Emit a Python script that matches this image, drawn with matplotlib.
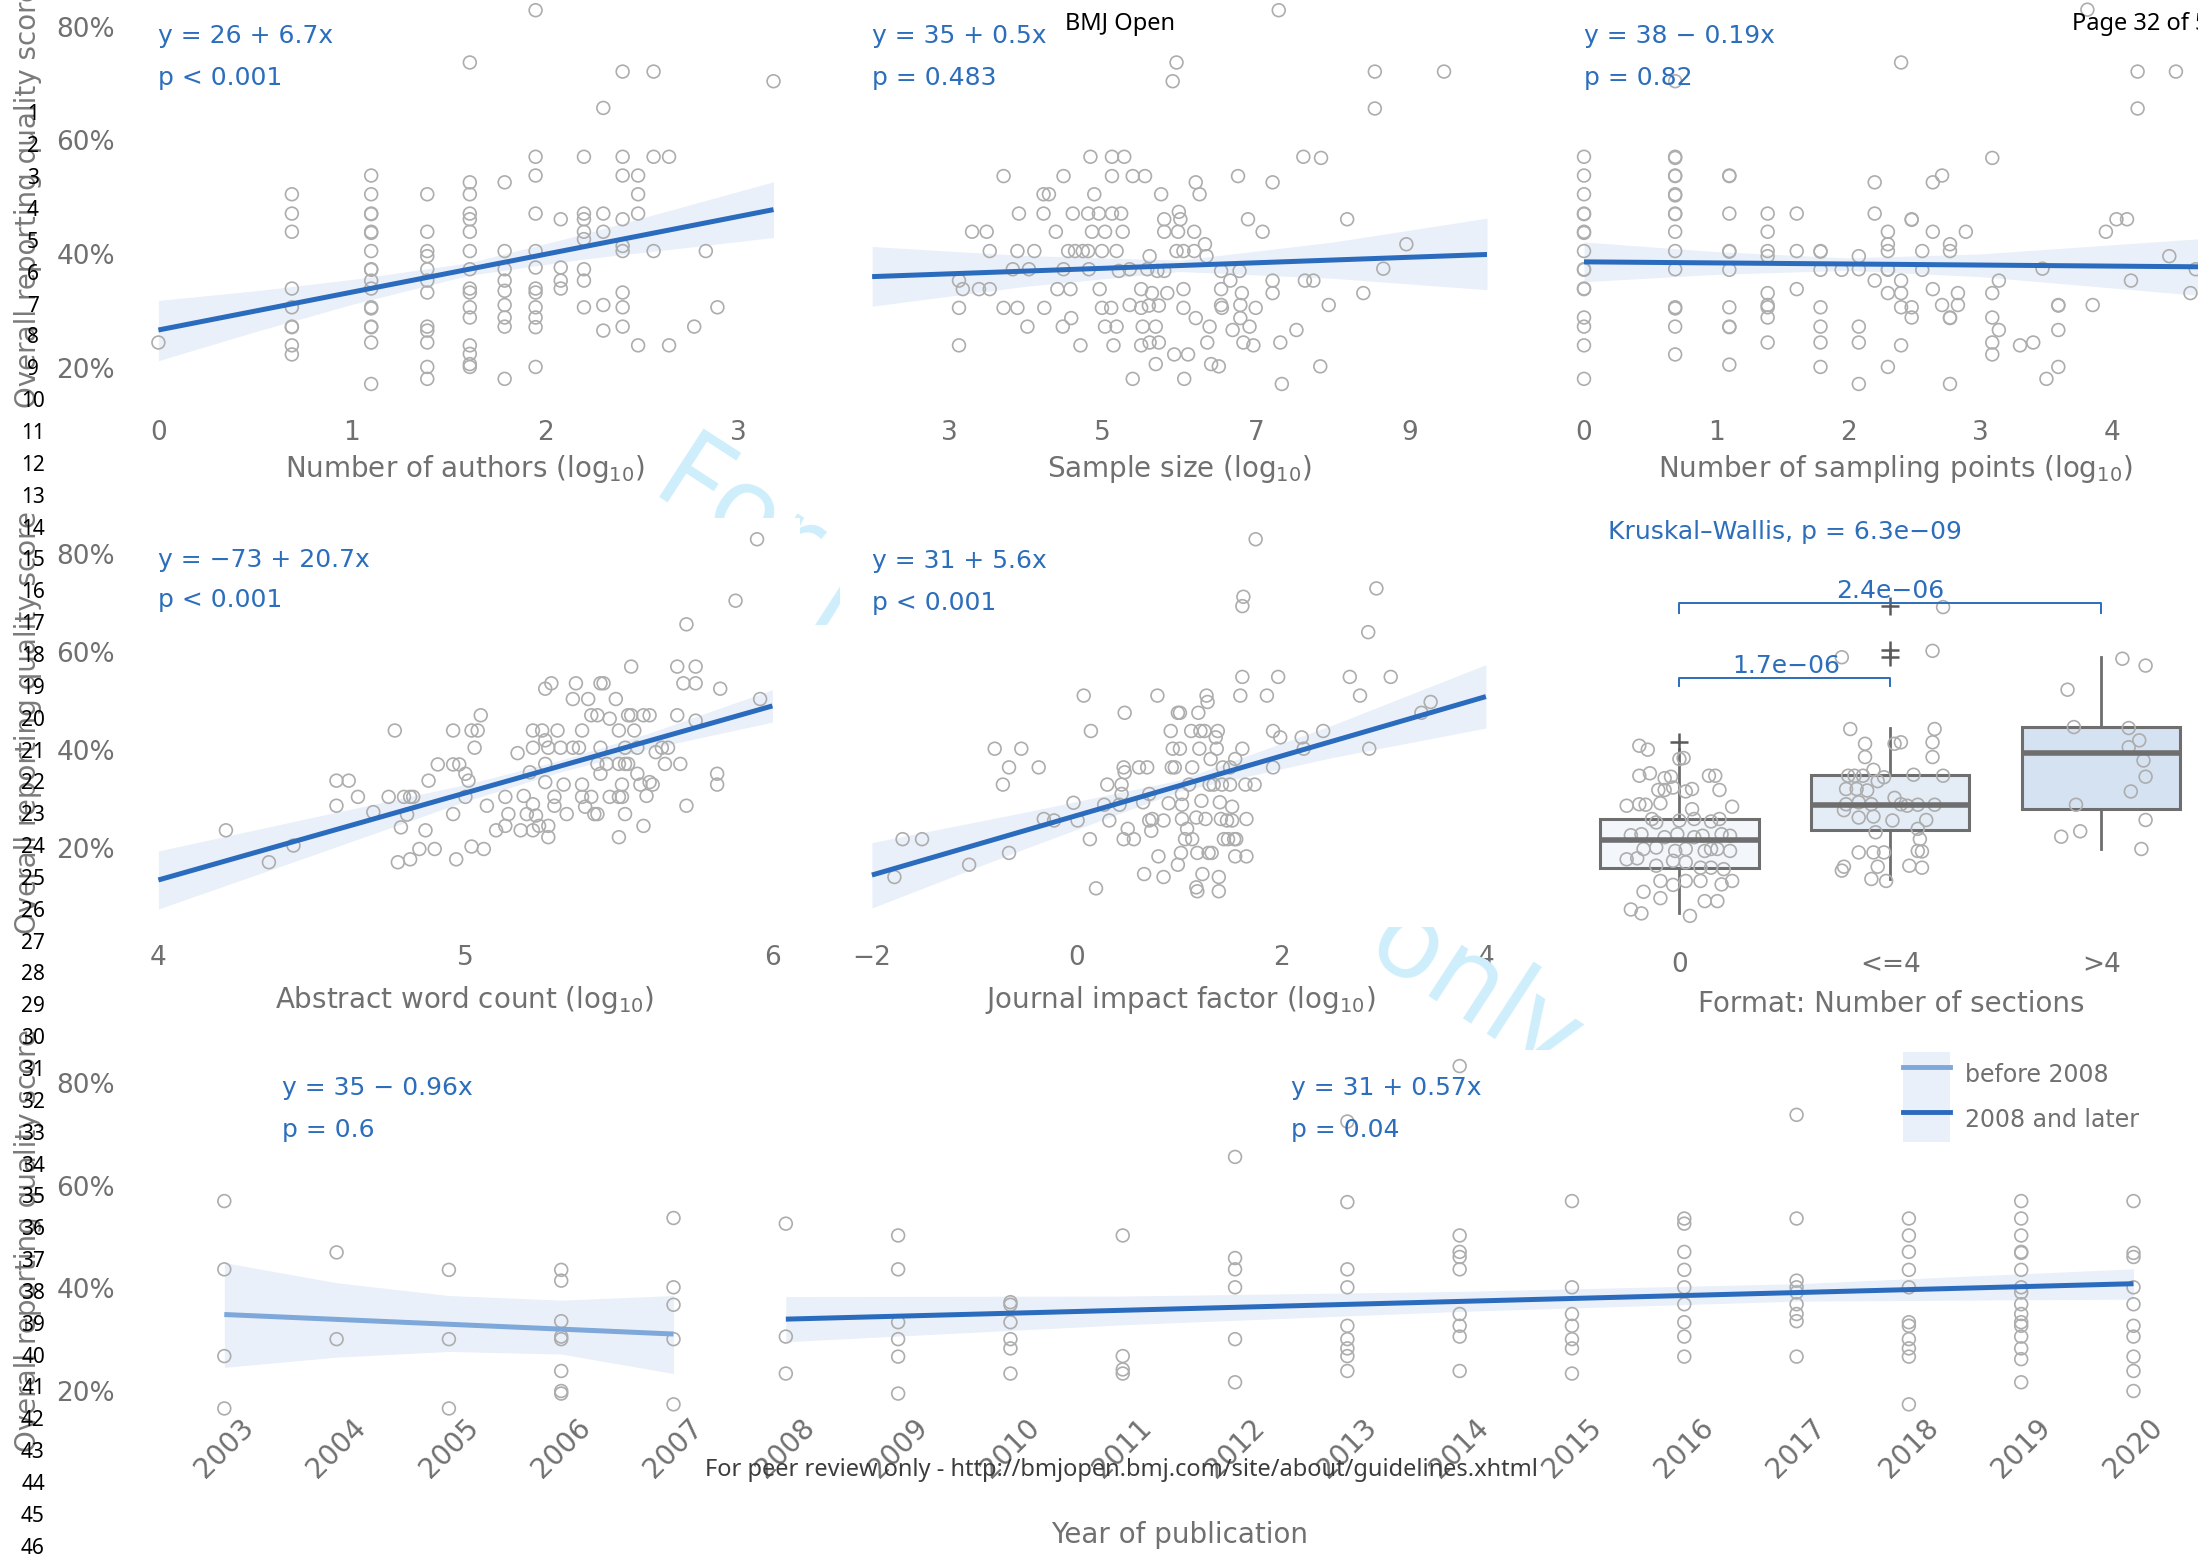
import matplotlib
matplotlib.use("Agg")
import matplotlib.pyplot as plt
from matplotlib.transforms import Bbox, TransformedBbox, IdentityTransform
from matplotlib.lines import Line2D
from matplotlib.patches import Patch
from matplotlib.legend_handler import HandlerTuple

# ---------------- data ----------------
# number of authors (log), scores stacked per column
authors_x = [0, 0.69, 1.10, 1.39, 1.61, 1.79, 1.95, 2.08, 2.20, 2.30, 2.40,
             2.48, 2.56, 2.64, 2.77, 2.83, 2.89, 3.18]
authors_y = [
    [24.4],
    [50.5, 47.1, 43.9, 33.9, 30.6, 27.2, 27.1, 23.9, 22.3],
    [53.8, 50.5, 47.1, 47.0, 43.9, 43.7, 40.5, 37.3, 37.2, 35.3, 33.9, 30.6,
     30.4, 27.2, 27.1, 24.4, 17.1],
    [50.5, 43.9, 40.5, 39.6, 37.3, 35.3, 33.2, 27.2, 26.5, 24.4, 20.1, 18.0],
    [73.7, 52.6, 50.5, 47.1, 46.1, 43.9, 40.5, 37.3, 33.9, 33.2, 30.6, 28.8,
     23.9, 22.4, 20.6, 20.1],
    [52.6, 40.5, 37.3, 35.3, 33.5, 31.0, 28.8, 27.2, 18.0],
    [82.9, 57.1, 53.8, 47.1, 40.5, 37.6, 33.9, 33.2, 30.6, 28.8, 27.1, 20.1],
    [46.1, 37.6, 35.3, 33.9],
    [57.1, 47.1, 46.1, 43.9, 42.6, 37.3, 35.3, 30.6],
    [65.7, 47.1, 43.9, 31.0, 26.5],
    [72.1, 57.1, 53.8, 46.1, 41.4, 40.5, 33.2, 30.6, 27.2],
    [53.8, 50.5, 47.1, 23.9],
    [72.1, 57.1, 40.5],
    [57.1, 23.9],
    [27.2],
    [40.5],
    [30.6],
    [70.4],
]
authors_fit_x = [0, 3.18]
authors_fit_y = [26.6, 47.8]
authors_band_x = [0, 0.5, 1.0, 1.6, 2.2, 2.7, 3.18]
authors_band_lo = [21.2, 26.3, 31.1, 36.2, 39.1, 41.0, 42.9]
authors_band_hi = [31.8, 33.5, 35.5, 38.4, 43.5, 48.2, 52.7]

# sample size (log)
sample_x = [7.29, 5.96, 5.91, 8.54, 9.44, 8.54, 4.84, 5.12, 5.28, 7.61, 7.84,
            3.71, 4.49, 5.12, 5.39, 5.55, 6.76, 6.21, 7.21, 4.23, 4.30, 4.89,
            5.76, 6.26, 3.91, 4.23, 4.61, 4.81, 4.95, 5.12, 5.24, 5.99, 5.80,
            6.01, 6.89, 8.18, 3.30, 3.49, 4.39, 4.86, 5.03, 5.26, 5.80, 5.98,
            6.19, 7.08, 3.53, 3.89, 4.11, 4.55, 4.64, 4.74, 4.81, 4.99, 5.18,
            5.96, 6.05, 6.19, 6.33, 6.35, 5.61, 8.95, 3.83, 4.04, 4.49, 4.82,
            5.21, 5.35, 5.58, 5.71, 5.80, 6.54, 6.78, 8.65, 3.13, 3.18, 3.39,
            3.53, 4.41, 4.58, 4.96, 5.50, 5.64, 5.84, 6.05, 6.54, 6.66, 6.81,
            7.21, 7.21, 7.63, 7.74, 8.39, 3.13, 3.71, 3.89, 4.24, 4.99, 5.11,
            5.35, 5.50, 5.60, 5.73, 6.05, 6.54, 6.55, 6.79, 6.99, 7.94, 4.02,
            4.48, 4.59, 5.03, 5.18, 5.52, 5.69, 6.21, 6.39, 6.69, 6.79, 6.91,
            7.52, 3.13, 4.71, 5.14, 5.50, 5.61, 5.73, 6.36, 6.83, 6.96, 7.31,
            5.69, 5.93, 6.11, 6.41, 6.51, 7.83, 5.39, 6.06, 7.33]
sample_y = [82.9, 73.7, 70.4, 72.1, 72.1, 65.6, 57.1, 57.1, 57.1, 57.1, 56.9,
            53.7, 53.7, 53.7, 53.7, 53.7, 53.7, 52.6, 52.6, 50.5, 50.5, 50.5,
            50.5, 50.5, 47.1, 47.1, 47.1, 47.1, 47.1, 47.1, 47.1, 47.4, 46.1,
            46.1, 46.1, 46.1, 43.9, 43.9, 43.9, 43.9, 43.9, 43.9, 43.9, 43.9,
            43.9, 43.9, 40.5, 40.5, 40.5, 40.5, 40.5, 40.5, 40.5, 40.5, 40.5,
            40.5, 40.5, 40.5, 41.7, 39.6, 39.6, 41.7, 37.3, 37.3, 37.3, 37.3,
            37.0, 37.3, 37.3, 37.0, 37.0, 37.0, 37.0, 37.4, 35.3, 33.8, 33.8,
            33.8, 33.8, 33.8, 33.8, 33.8, 33.1, 33.1, 33.8, 33.8, 35.3, 33.1,
            35.3, 33.1, 35.3, 35.3, 33.1, 30.5, 30.5, 30.5, 30.5, 30.5, 30.5,
            31.0, 30.5, 30.9, 30.9, 30.5, 31.0, 30.5, 31.0, 30.5, 31.0, 27.2,
            27.2, 28.7, 27.2, 27.2, 27.2, 27.2, 28.7, 27.2, 26.6, 28.7, 27.2,
            26.6, 23.9, 23.9, 23.9, 23.9, 24.4, 24.4, 24.4, 24.4, 23.9, 24.4,
            20.6, 22.3, 22.3, 20.6, 20.2, 20.2, 18.0, 18.0, 17.1]
sample_fit_x = [2, 10]
sample_fit_y = [36.0, 39.9]
sample_band_x = [2, 4, 6, 8, 10]
sample_band_lo = [30.8, 34.3, 36.9, 35.7, 33.7]
sample_band_hi = [41.3, 39.7, 38.9, 42.1, 46.3]

# number of sampling points (log), scores stacked per column
sampling_x = [0, 0.69, 1.10, 1.39, 1.61, 1.79, 1.95, 2.08, 2.20, 2.30, 2.40,
              2.48, 2.56, 2.64, 2.71, 2.77, 2.83, 2.89, 3.09, 3.14, 3.30, 3.40,
              3.47, 3.50, 3.59, 3.81, 3.85, 3.95, 4.03, 4.11, 4.14, 4.19, 4.43,
              4.48, 4.59, 4.63]
sampling_y = [
    [57.1, 53.8, 50.5, 47.1, 47.0, 43.9, 43.7, 40.5, 37.3, 37.2, 33.9, 33.8,
     28.8, 27.2, 23.9, 18.0],
    [70.4, 57.1, 56.9, 53.8, 53.7, 50.5, 50.3, 47.1, 47.0, 43.9, 40.5, 37.3,
     30.6, 30.4, 27.2, 22.3],
    [53.8, 53.7, 47.1, 40.5, 40.4, 37.2, 30.6, 27.2, 27.1, 20.5],
    [47.1, 43.9, 40.5, 39.6, 33.1, 31.0, 30.6, 28.8, 24.4],
    [47.1, 40.5, 33.8],
    [40.5, 40.4, 37.2, 30.6, 27.2, 24.4, 20.1],
    [37.2],
    [39.6, 37.3, 27.2, 24.4, 17.1],
    [52.6, 47.1, 35.3],
    [43.9, 41.7, 40.5, 37.3, 37.2, 33.1, 20.1],
    [73.7, 35.3, 33.1, 30.6, 23.9],
    [46.1, 46.0, 30.6, 28.8],
    [40.5, 37.2],
    [52.6, 43.9, 33.8],
    [53.8, 31.0],
    [41.7, 40.5, 28.8, 28.7, 17.1],
    [33.1, 31.0],
    [43.9],
    [56.9, 33.1, 28.8, 24.4, 22.3],
    [35.3, 26.6],
    [23.9],
    [24.4],
    [37.4],
    [18.0],
    [31.0, 30.9, 26.6, 20.1],
    [83.0],
    [31.0],
    [43.9],
    [46.1],
    [46.1],
    [35.3],
    [72.1, 65.6],
    [39.6],
    [72.1],
    [33.1],
    [37.3],
]
sampling_fit_x = [0, 4.8]
sampling_fit_y = [38.6, 37.7]
sampling_band_x = [0, 1, 2, 3, 4.8]
sampling_band_lo = [35.1, 36.4, 37.1, 36.0, 32.4]
sampling_band_hi = [42.1, 40.4, 39.3, 40.0, 42.9]

# abstract word count (log)
abstract_x = [4.22, 4.36, 4.44, 4.58, 4.58, 4.62, 4.65, 4.70, 4.75, 4.77,
              4.79, 4.78, 4.80, 4.82, 4.83, 4.81, 4.82, 4.85, 4.87, 4.88,
              4.90, 4.91, 4.96, 4.98, 4.96, 4.96, 4.97, 5.00, 5.00, 5.01,
              5.02, 5.04, 5.03, 5.05, 5.07, 5.02, 5.06, 5.10, 5.13, 5.13,
              5.14, 5.17, 5.18, 5.19, 5.20, 5.21, 5.22, 5.22, 5.22, 5.22,
              5.23, 5.24, 5.25, 5.26, 5.26, 5.26, 5.26, 5.27, 5.27, 5.27,
              5.28, 5.29, 5.29, 5.30, 5.31, 5.32, 5.33, 5.35, 5.35, 5.36,
              5.37, 5.38, 5.38, 5.38, 5.39, 5.40, 5.41, 5.41, 5.42, 5.43,
              5.43, 5.43, 5.44, 5.44, 5.44, 5.45, 5.46, 5.47, 5.47, 5.49,
              5.50, 5.50, 5.50, 5.50, 5.51, 5.51, 5.52, 5.52, 5.52, 5.53,
              5.53, 5.54, 5.54, 5.55, 5.56, 5.56, 5.57, 5.58, 5.58, 5.59,
              5.60, 5.60, 5.61, 5.62, 5.64, 5.65, 5.66, 5.69, 5.69, 5.70,
              5.71, 5.72, 5.72, 5.75, 5.75, 5.75, 5.82, 5.82, 5.83, 5.88,
              5.95, 5.96]
abstract_y = [23.7, 17.2, 20.6, 28.7, 33.8, 33.8, 30.5, 27.4, 30.5, 44.0,
              24.3, 17.2, 30.5, 30.5, 30.5, 26.9, 17.8, 19.9, 23.7, 33.8,
              19.9, 37.1, 37.1, 37.1, 44.0, 27.0, 17.8, 30.5, 35.2, 33.8,
              44.0, 44.0, 40.5, 47.1, 28.7, 20.4, 19.9, 23.7, 30.5, 24.6,
              27.0, 39.4, 23.7, 30.7, 27.0, 35.5, 44.0, 40.5, 29.0, 23.7,
              26.7, 24.6, 44.0, 52.5, 42.0, 33.5, 37.2, 40.5, 22.3, 24.6,
              53.6, 30.5, 28.7, 44.0, 40.5, 33.0, 27.0, 50.4, 40.5, 53.6,
              40.5, 30.5, 44.0, 33.0, 28.5, 50.4, 30.5, 47.1, 27.0, 47.1,
              37.2, 27.0, 53.6, 40.5, 35.2, 53.6, 37.2, 30.5, 46.4, 50.4,
              22.3, 30.5, 44.0, 37.2, 33.0, 30.5, 37.2, 27.0, 40.5, 47.1,
              37.2, 57.0, 47.1, 44.0, 40.5, 35.2, 33.0, 24.6, 47.1, 30.7,
              47.1, 33.5, 33.0, 39.6, 40.5, 37.2, 40.5, 57.0, 47.1, 37.2,
              53.6, 65.6, 28.7, 57.0, 53.6, 46.0, 35.2, 33.0, 52.5, 70.4,
              82.9, 50.4]
abstract_fit_x = [4, 6]
abstract_fit_y = [13.6, 49.0]
abstract_band_x = [4.0, 4.5, 5.0, 5.3, 5.6, 6.0]
abstract_band_lo = [7.7, 18.6, 29.6, 35.4, 40.3, 45.7]
abstract_band_hi = [19.5, 26.3, 33.0, 37.8, 43.5, 52.3]

# journal impact factor (log)
impact_x = [-1.78, -1.70, -1.51, -1.05, -0.80, -0.54, -0.66, -0.37, -0.72,
            -0.66, -0.32, -0.22, -0.03, 0.01, 0.07, 0.14, 0.13, 0.19, 0.27,
            0.30, 0.32, 0.44, 0.44, 0.42, 0.46, 0.47, 0.47, 0.46, 0.50, 0.56,
            0.61, 0.69, 0.66, 0.65, 0.71, 0.71, 0.73, 0.74, 0.79, 0.80, 0.85,
            0.85, 0.90, 0.92, 0.93, 0.94, 0.96, 0.99, 1.01, 1.01, 0.99, 1.02,
            1.03, 1.03, 1.03, 1.06, 1.08, 1.10, 1.12, 1.13, 1.13, 1.17, 1.17,
            1.18, 1.18, 1.19, 1.20, 1.21, 1.22, 1.23, 1.25, 1.26, 1.27, 1.28,
            1.29, 1.30, 1.31, 1.32, 1.34, 1.36, 1.37, 1.38, 1.39, 1.39, 1.40,
            1.41, 1.42, 1.43, 1.44, 1.47, 1.48, 1.50, 1.50, 1.52, 1.52, 1.54,
            1.55, 1.55, 1.56, 1.60, 1.62, 1.62, 1.63, 1.62, 1.66, 1.66, 1.65,
            1.74, 1.75, 1.86, 1.92, 1.92, 1.97, 1.99, 2.20, 2.22, 2.41, 2.67,
            2.77, 2.86, 2.85, 2.93, 3.07, 3.37, 3.46]
impact_y = [14.2, 21.9, 21.9, 16.7, 40.3, 40.3, 36.5, 36.5, 33.0, 19.1, 26.0,
            25.7, 29.3, 25.7, 51.1, 43.9, 21.9, 11.9, 28.9, 33.0, 25.7, 33.0,
            31.1, 28.9, 36.5, 35.5, 47.6, 21.9, 24.0, 21.9, 36.5, 36.5, 14.8,
            29.4, 31.1, 25.7, 23.6, 26.0, 51.1, 18.4, 25.7, 14.2, 29.2, 43.9,
            36.5, 40.3, 36.5, 47.6, 47.6, 40.3, 16.7, 19.1, 26.0, 28.9, 31.1,
            21.9, 24.0, 33.0, 43.9, 36.5, 21.9, 26.3, 12.1, 11.3, 19.1, 47.6,
            40.3, 43.9, 29.7, 14.8, 43.9, 26.0, 51.1, 49.8, 19.1, 33.0, 38.2,
            19.1, 33.0, 42.6, 40.3, 43.9, 14.2, 11.3, 29.4, 26.0, 33.0, 36.5,
            21.9, 25.7, 21.9, 36.5, 33.0, 28.5, 25.7, 21.9, 18.4, 38.2, 21.9,
            51.1, 54.9, 40.3, 71.2, 69.3, 26.0, 18.4, 33.0, 33.0, 82.9, 51.1,
            43.9, 36.5, 54.9, 42.6, 42.6, 40.3, 43.9, 54.9, 51.1, 40.3, 64.0,
            72.9, 54.9, 47.6, 49.8]
impact_fit_x = [-2, 4]
impact_fit_y = [14.6, 50.9]
impact_band_x = [-2, -0.5, 1.0, 2.5, 4.0]
impact_band_lo = [7.9, 20.0, 31.6, 38.5, 44.5]
impact_band_hi = [21.2, 27.4, 33.9, 45.1, 57.4]

# format: number of sections
format_labels = ["0", "<=4", ">4"]
format_q1 = [16.1, 23.8, 28.0]
format_med = [21.7, 28.8, 39.4]
format_q3 = [25.9, 35.0, 44.7]
format_whislo = [6.8, 13.8, 19.9]
format_whishi = [40.3, 44.5, 58.9]
format_outliers = [[41.6], [69.3, 60.4, 58.9], []]
format_pos_x = [-0.19, -0.15, 0.00, 0.02, -0.19, -0.14, -0.07, -0.04, 0.14, 0.17,
                -0.10, -0.07, -0.03, 0.03, 0.06, 0.19, -0.25, -0.19, -0.16, -0.09,
                0.06, 0.25, -0.13, -0.11, 0.00, 0.07, 0.15, 0.19, -0.23, -0.18,
                -0.07, -0.01, 0.07, 0.11, 0.20, 0.24, -0.25, -0.20, -0.17, -0.11,
                -0.02, 0.03, 0.12, 0.15, 0.18, 0.24, -0.11, -0.03, 0.03, 0.10,
                0.15, 0.21, -0.09, -0.03, 0.03, 0.10, 0.20, 0.25, -0.17, -0.09,
                0.12, 0.18, -0.23, -0.18, 0.05,
                0.81, 0.88, 0.88, 1.02, 1.05, 1.21, 1.20, 1.20, 0.80, 0.83, 0.87,
                0.92, 0.97, 1.11, 1.25, 0.79, 0.84, 0.89, 0.94, 0.79, 0.85, 0.91,
                1.02, 1.05, 1.08, 1.13, 1.21, 0.78, 0.85, 0.92, 1.01, 1.17, 0.93,
                1.13, 1.14, 0.85, 0.92, 0.97, 1.13, 1.15, 0.77, 0.78, 0.94, 1.09,
                1.15, 0.91, 0.98, 0.77, 1.20, 1.25,
                2.10, 2.21, 1.84, 1.87, 2.13, 2.18, 2.13, 2.20, 2.21, 2.14, 1.88,
                2.21, 1.90, 1.81, 2.19]
format_pos_y = [40.9, 40.1, 38.2, 38.4, 34.8, 35.3, 34.3, 34.6, 34.8, 34.8,
                31.9, 31.9, 32.4, 31.6, 32.1, 31.9, 28.7, 29.0, 28.9, 29.2,
                28.0, 28.5, 26.0, 25.3, 25.7, 26.0, 25.5, 26.0, 22.7, 22.9,
                22.3, 22.9, 22.3, 22.6, 22.9, 22.6, 17.8, 18.0, 19.9, 20.2,
                19.5, 19.9, 19.5, 19.9, 19.9, 19.5, 16.5, 17.5, 17.2, 16.1,
                16.1, 15.8, 13.4, 12.6, 13.4, 13.4, 12.7, 13.4, 11.2, 9.9,
                9.3, 9.3, 7.6, 6.8, 6.3,
                44.3, 41.3, 38.6, 41.3, 41.6, 44.3, 41.6, 38.6, 34.8, 34.8, 34.8,
                36.0, 34.5, 35.0, 34.8, 32.1, 32.1, 31.8, 33.7, 29.0, 29.4, 29.0,
                30.3, 29.0, 28.7, 28.9, 28.9, 27.8, 26.3, 26.5, 25.7, 25.8, 23.3,
                24.0, 21.9, 19.2, 19.2, 19.2, 19.5, 19.4, 15.5, 16.3, 16.3, 16.5,
                16.1, 13.8, 13.4, 58.9, 60.2, 69.1,
                58.6, 57.2, 52.3, 44.7, 44.5, 42.0, 40.6, 37.9, 34.6, 31.6, 28.9,
                25.8, 23.5, 22.4, 19.9]

# year of publication, scores stacked per year
years = [2003, 2004, 2005, 2006, 2007, 2008, 2009, 2010, 2011, 2012, 2013,
         2014, 2015, 2016, 2017, 2018, 2019, 2020]
year_scores = [
    [57.0, 43.7, 26.8, 16.6],
    [47.0, 30.1],
    [43.6, 30.1, 16.6],
    [43.6, 41.5, 33.6, 30.6, 30.1, 23.9, 20.0, 19.5],
    [53.7, 40.2, 36.8, 30.1, 17.4],
    [52.6, 30.6, 23.4],
    [50.3, 43.7, 33.4, 30.1, 26.7, 19.5],
    [37.3, 36.8, 33.4, 30.1, 28.3, 23.4],
    [50.3, 26.8, 24.2, 23.4],
    [65.6, 45.9, 43.7, 40.2, 30.1, 21.7],
    [72.5, 56.8, 43.7, 40.2, 32.7, 30.1, 28.3, 26.8, 23.9],
    [83.3, 50.3, 47.1, 46.1, 43.7, 35.0, 32.7, 30.6, 23.9],
    [57.0, 40.2, 35.0, 32.7, 30.1, 28.3, 23.4],
    [53.6, 52.6, 47.1, 43.6, 40.2, 36.9, 33.4, 30.6, 26.7],
    [73.8, 53.6, 41.5, 40.2, 39.2, 36.9, 35.0, 33.6, 26.7],
    [53.6, 50.3, 47.1, 43.6, 40.2, 33.4, 32.7, 30.1, 28.3, 26.7, 17.4],
    [57.0, 53.6, 50.3, 47.1, 46.9, 43.6, 40.2, 39.2, 36.9, 35.0, 33.4, 32.7,
     30.6, 28.3, 26.2, 21.7],
    [57.0, 46.9, 46.1, 40.2, 36.9, 32.7, 30.6, 26.7, 23.9, 20.0],
]
early_fit_x = [2003, 2007]
early_fit_y = [34.9, 31.1]
early_band_x = [2003, 2004, 2005, 2006, 2007]
early_band_lo = [24.6, 26.6, 27.7, 27.2, 23.4]
early_band_hi = [45.0, 41.1, 38.6, 37.7, 38.6]
late_fit_x = [2008, 2020]
late_fit_y = [34.0, 40.9]
late_band_x = [2008, 2011, 2014, 2017, 2020]
late_band_lo = [29.6, 32.9, 35.5, 37.5, 37.9]
late_band_hi = [38.4, 38.5, 39.4, 40.9, 43.8]

pct_ticks = [20, 40, 60, 80]
pct_labels = ["20%", "40%", "60%", "80%"]

# ---------------- styling ----------------
W, H = 2198, 1558
GREY = "#707070"
PTS = "#adadad"
BLUE = "#2b6bbd"
LIGHT = "#7ea8d9"
BAND = "#eaf0f9"
TBLUE = "#2c6ebb"
BOXEDGE = "#6e6e6e"
PAGEFONT = ["Noto Sans", "DejaVu Sans"]

fig = plt.figure(figsize=(W / 100, H / 100), dpi=100)


def panel(box, xcal, ycal):
    l, t, r, b = box
    ax = fig.add_axes([l / W, 1 - b / H, (r - l) / W, (b - t) / H])
    (p1, v1), (p2, v2) = xcal
    k = (v2 - v1) / (p2 - p1)
    ax.set_xlim(v1 + (l - p1) * k, v1 + (r - p1) * k)
    (p1, v1), (p2, v2) = ycal
    k = (v2 - v1) / (p2 - p1)
    ax.set_ylim(v1 + (b - p1) * k, v1 + (t - p1) * k)
    ax.patch.set_visible(False)
    for s in ax.spines.values():
        s.set_visible(False)
    ax.tick_params(length=0, labelsize=19, labelcolor=GREY)
    ax.set_yticks([])
    return ax


def xaxis(ax, ticks, labels, pad, title, title_y):
    ax.set_xticks(ticks)
    ax.set_xticklabels(labels)
    ax.tick_params(axis="x", pad=pad)
    plt.setp(ax.get_xticklabels(), va="center")
    ax.set_xlabel(title, fontsize=20, color=GREY, va="center")
    ax.xaxis.set_label_coords(0.5, title_y)


def yaxis(ax):
    ax.set_yticks(pct_ticks)
    ax.set_yticklabels(pct_labels)
    ax.tick_params(axis="y", pad=18)


def regression(ax, fx, fy, bx, lo, hi, color=BLUE):
    ax.fill_between(bx, lo, hi, color=BAND, lw=0, zorder=1)
    ax.plot(fx, fy, color=color, lw=3.6, solid_capstyle="butt", zorder=3)


def scatter(ax, x, y):
    ax.scatter(x, y, s=85, facecolors="none", edgecolors=PTS, linewidths=1.2,
               clip_on=False, zorder=2)


def note(ax, x, y1, y2, t1, t2):
    ax.text(x, y1, t1, color=TBLUE, fontsize=18, ha="left", va="baseline")
    ax.text(x, y2, t2, color=TBLUE, fontsize=18, ha="left", va="baseline")


def columns(xs, groups):
    px = [x for x, g in zip(xs, groups) for _ in g]
    py = [v for g in groups for v in g]
    return px, py


ROW1 = ((26.7, 80), (367.5, 20))
ROW2 = ((553.5, 80), (848.5, 20))
ROW3 = ((1083.0, 80), (1391.0, 20))

# ---- row 1 ----
ax = panel((140, 0, 790, 400), ((158.4, 0), (738.7, 3)), ROW1)
regression(ax, authors_fit_x, authors_fit_y, authors_band_x, authors_band_lo, authors_band_hi)
scatter(ax, *columns(authors_x, authors_y))
yaxis(ax)
xaxis(ax, [0, 1, 2, 3], ["0", "1", "2", "3"], 24, "Number of authors (log$_{10}$)", -0.172)
note(ax, 0, 77.1, 69.7, "y = 26 + 6.7x", "p < 0.001")

ax = panel((872.1, 0, 1487.1, 400), ((949.0, 3), (1410.2, 9)), ROW1)
regression(ax, sample_fit_x, sample_fit_y, sample_band_x, sample_band_lo, sample_band_hi)
scatter(ax, sample_x, sample_y)
xaxis(ax, [3, 5, 7, 9], ["3", "5", "7", "9"], 24, "Sample size (log$_{10}$)", -0.172)
note(ax, 2, 77.1, 69.7, "y = 35 + 0.5x", "p = 0.483")

ax = panel((1560, 0, 2230, 400), ((1584.0, 0), (2112.5, 4)), ROW1)
regression(ax, sampling_fit_x, sampling_fit_y, sampling_band_x, sampling_band_lo, sampling_band_hi)
scatter(ax, *columns(sampling_x, sampling_y))
xaxis(ax, [0, 1, 2, 3, 4], ["0", "1", "2", "3", "4"], 24,
      "Number of sampling points (log$_{10}$)", -0.172)
note(ax, 0, 77.1, 69.7, "y = 38 \u2212 0.19x", "p = 0.82")

# ---- row 2 ----
ax = panel((140, 520, 790, 925), ((158.4, 4), (772.4, 6)), ROW2)
regression(ax, abstract_fit_x, abstract_fit_y, abstract_band_x, abstract_band_lo, abstract_band_hi)
scatter(ax, abstract_x, abstract_y)
yaxis(ax)
xaxis(ax, [4, 5, 6], ["4", "5", "6"], 24, "Abstract word count (log$_{10}$)", -0.184)
note(ax, 4, 77.3, 69.1, "y = \u221273 + 20.7x", "p < 0.001")

ax = panel((860, 520, 1500, 925), ((871.9, -2), (1485.9, 4)), ROW2)
regression(ax, impact_fit_x, impact_fit_y, impact_band_x, impact_band_lo, impact_band_hi)
scatter(ax, impact_x, impact_y)
xaxis(ax, [-2, 0, 2, 4], ["\u22122", "0", "2", "4"], 24,
      "Journal impact factor (log$_{10}$)", -0.184)
note(ax, -2, 77.0, 68.5, "y = 31 + 5.6x", "p < 0.001")

ax = panel((1560, 520, 2222, 925), ((1679.4, 0), (2101.3, 2)), ROW2)
stats = []
for i in range(3):
    stats.append(dict(med=format_med[i], q1=format_q1[i], q3=format_q3[i],
                      whislo=format_whislo[i], whishi=format_whishi[i],
                      fliers=format_outliers[i]))
bp = ax.bxp(stats, positions=[0, 1, 2], widths=0.75, patch_artist=True,
            showcaps=False, showfliers=True,
            boxprops=dict(edgecolor=BOXEDGE, linewidth=2.2),
            medianprops=dict(color=BOXEDGE, linewidth=4.0),
            whiskerprops=dict(color=BOXEDGE, linewidth=2.0),
            flierprops=dict(marker="+", markersize=13, markeredgewidth=1.8,
                            markeredgecolor="#5a5a5a"))
for patch, fc in zip(bp["boxes"], ["#f3f6fb", "#e4ecf6", "#d5e2f2"]):
    patch.set_facecolor(fc)
    patch.set_zorder(1)
scatter(ax, format_pos_x, format_pos_y)
ax.plot([0, 0, 1, 1], [53.0, 54.7, 54.7, 53.0], color=TBLUE, lw=1.4)
ax.plot([0, 0, 2, 2], [68.0, 69.9, 69.9, 68.0], color=TBLUE, lw=1.4)
ax.text(0.507, 55.6, "1.7e\u221206", color=TBLUE, fontsize=18, ha="center", va="baseline")
ax.text(1.0, 70.9, "2.4e\u221206", color=TBLUE, fontsize=18, ha="center", va="baseline")
ax.text(-0.338, 82.9, "Kruskal\u2013Wallis, p = 6.3e\u221209", color=TBLUE,
        fontsize=18, ha="left", va="baseline")
xaxis(ax, [0, 1, 2], format_labels, 29, "Format: Number of sections", -0.196)

# ---- row 3 ----
ax = panel((140, 1060, 2220, 1430), ((224.3, 2003), (2133.5, 2020)), ROW3)
regression(ax, early_fit_x, early_fit_y, early_band_x, early_band_lo, early_band_hi, LIGHT)
regression(ax, late_fit_x, late_fit_y, late_band_x, late_band_lo, late_band_hi)
scatter(ax, *columns(years, year_scores))
yaxis(ax)
ax.set_xticks(years)
ax.set_xticklabels([str(y) for y in years], rotation=45, fontsize=20)
ax.tick_params(axis="x", pad=13)
plt.setp(ax.get_xticklabels(), va="center", ha="center")
ax.set_xlabel("Year of publication", fontsize=20, color=GREY, va="center")
ax.xaxis.set_label_coords(0.5, -0.285)
note(ax, 2003.51, 77.7, 69.5, "y = 35 \u2212 0.96x", "p = 0.6")
note(ax, 2012.50, 77.7, 69.5, "y = 31 + 0.57x", "p = 0.04")

handles = [(Patch(facecolor=BAND, edgecolor="none"), Line2D([], [], color=LIGHT, lw=3.5)),
           (Patch(facecolor=BAND, edgecolor="none"), Line2D([], [], color=BLUE, lw=3.5))]
fig.legend(handles, ["before 2008", "2008 and later"], loc="upper left",
           bbox_to_anchor=(1903 / W, 1 - 1052 / H), frameon=False, fontsize=17,
           handlelength=2.0, handleheight=2.56, labelspacing=0, handletextpad=0.64,
           borderpad=0, borderaxespad=0, labelcolor=GREY,
           handler_map={tuple: HandlerTuple(ndivide=1)})

# ---- shared y titles ----
for yc in [196, 722, 1240]:
    fig.text(28 / W, 1 - yc / H, "Overall reporting quality score", rotation=90,
             fontsize=20, color="#7a7a7a", ha="center", va="center")

# ---- page furniture of the source PDF ----
# watermark only shows through a few gaps of the pasted chart
for x0, y0, x1, y1 in [(600, 380, 840, 518), (800, 518, 840, 625), (1362, 927, 1620, 1050)]:
    wm = fig.text(650 / W, 1 - 490 / H, "For peer review only", fontsize=81,
                  family=PAGEFONT, color="#cfeefb", rotation=-33,
                  rotation_mode="anchor", ha="left", va="baseline", zorder=0)
    wm.set_clip_box(TransformedBbox(Bbox.from_extents(x0, H - y1, x1, H - y0),
                                    IdentityTransform()))
    wm.set_clip_on(True)

for n in range(1, 47):
    fig.text(33 / W, 1 - (115 + (n - 1) * 31.85) / H, str(n), fontsize=15,
             family=PAGEFONT, color="black", ha="center", va="center")

fig.text(1120 / W, 1 - 30 / H, "BMJ Open", fontsize=17, family=PAGEFONT,
         color="black", ha="center", va="baseline")
fig.text(2072 / W, 1 - 30 / H, "Page 32 of 55", fontsize=17, family=PAGEFONT,
         color="black", ha="left", va="baseline")
fig.text(1121 / W, 1 - 1476 / H,
         "For peer review only - http://bmjopen.bmj.com/site/about/guidelines.xhtml",
         fontsize=17, family=PAGEFONT, color="#3c3c3c", ha="center", va="baseline")

fig.savefig("out.png", dpi=100)
